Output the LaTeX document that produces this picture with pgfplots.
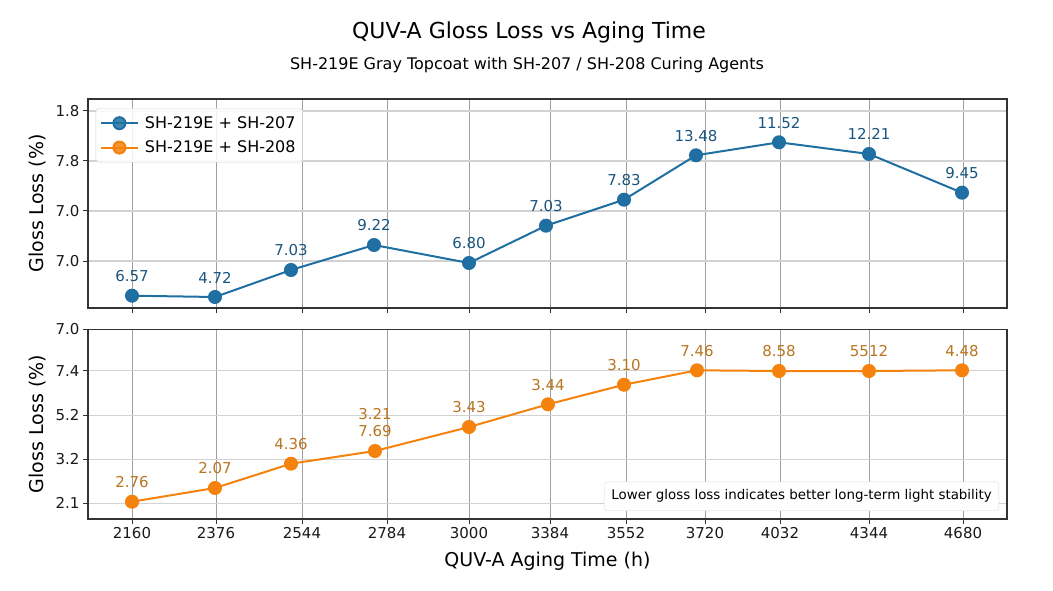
\documentclass[border=0pt]{standalone}
\usepackage{pgfplots}
\pgfplotsset{compat=1.18}
\usepackage{pgfplotstable}
\usepackage{fontspec}
\setmainfont{DejaVu Sans}
\definecolor{cblue}{HTML}{1F6FA3}
\definecolor{cbluet}{HTML}{1A5580}
\definecolor{corange}{HTML}{F5820D}
\definecolor{coranget}{HTML}{B8751E}
\definecolor{frame}{HTML}{333333}

\pgfplotstableread{
x y lab
132 0.306 6.57
215 0.280 4.72
291 0.820 7.03
374 1.320 9.22
469 0.960 6.80
546 1.706 7.03
624 2.226 7.83
696 3.114 13.48
779 3.374 11.52
869 3.140 12.21
962 2.366 9.45
}\topdata

\pgfplotsset{
  common/.style={
    scale only axis, width=919pt,
    xmin=88, xmax=1007,
    xtick={132,216,302,387,469,550,626,705,780,869,963},
    tick align=outside, tick pos=left,
    major tick length=5pt,
    axis line style={draw=frame, line width=1.1pt},
    every tick/.style={draw=frame, line width=1pt},
    grid=major,
    x grid style={draw=gray!75, line width=0.8pt},
    y grid style={draw=gray!35, line width=1.2pt},
    /pgf/number format/assume math mode=true,
    ticklabel style={font=\fontsize{15}{18}\selectfont, text=black!90},
    label style={font=\fontsize{19}{22}\selectfont},
    nodes near coords={\pgfplotspointmeta},
    nodes near coords align={center},
    every node near coord/.append style={anchor=south, inner sep=0pt, yshift=13pt,
      font=\fontsize{15}{17.5}\selectfont, align=center},
  }
}

\begin{document}
\begin{tikzpicture}
\path[use as bounding box] (0,0) rectangle (1053pt,-591pt);

\node[font=\fontsize{22}{26}\selectfont] at (529pt,-32pt) {QUV-A Gloss Loss vs Aging Time};
\node[font=\fontsize{16}{19}\selectfont] at (527pt,-65pt) {SH-219E Gray Topcoat with SH-207 / SH-208 Curing Agents};

\begin{axis}[common,
  at={(88pt,-99pt)}, anchor=north west,
  height=209pt,
  ymin=0.06, ymax=4.24,
  xticklabels={},
  ytick={1,2,3,4}, yticklabels={7.0,7.0,7.8,1.8},
  ylabel={Gloss Loss (\%)},
  ylabel style={at={(axis description cs:-0.0544,0.5)}, anchor=center},
  legend style={at={(axis description cs:0.0084,0.9555)}, anchor=north west,
    draw=gray!35, rounded corners=3pt, fill=white, fill opacity=0.85, text opacity=1,
    font=\fontsize{16}{19}\selectfont, inner xsep=4pt, inner ysep=5pt,
    nodes={inner sep=3pt}, row sep=5pt, column sep=3pt},
  legend cell align=left,
  legend image code/.code={\draw[mark repeat=2,mark phase=2] plot coordinates {(0pt,0pt) (18.5pt,0pt) (37pt,0pt)};},
]
\addplot[color=cblue, line width=2pt, mark=*, mark size=6pt,
  mark options={solid, fill=cblue, draw=cblue},
  point meta=explicit symbolic,
  every node near coord/.append style={text=cbluet}]
  table[x=x, y=y, meta=lab] {\topdata};
\addlegendentry{SH-219E + SH-207}
\addlegendimage{color=corange, line width=2pt, mark=*, mark size=6pt, mark options={solid, fill=corange, draw=corange}}
\addlegendentry{SH-219E + SH-208}
\end{axis}

\begin{axis}[common,
  at={(88pt,-329.3pt)}, anchor=north west,
  height=189.7pt,
  ymin=-0.357, ymax=3.955,
  xticklabels={2160,2376,2544,2784,3000,3384,3552,3720,4032,4344,4680},
  ytick={0,1,2,3.014,3.955}, yticklabels={2.1,3.2,5.2,7.4,7.0},
  ylabel={Gloss Loss (\%)},
  ylabel style={at={(axis description cs:-0.0544,0.5)}, anchor=center},
  xlabel={QUV-A Aging Time (h)},
  xlabel style={at={(axis description cs:0.5,-0.222)}, anchor=center},
]
\addplot[color=corange, line width=2pt, mark=*, mark size=6pt,
  mark options={solid, fill=corange, draw=corange},
  point meta=explicit symbolic,
  every node near coord/.append style={text=coranget}]
  coordinates {
  (132,0.036) [2.76]
  (215,0.348) [2.07]
  (291,0.900) [4.36]
  (375,1.189) [{3.21\\7.69}]
  (469,1.734) [3.43]
  (548,2.250) [3.44]
  (624,2.695) [3.10]
  (697,3.023) [7.46]
  (779,3.007) [8.58]
  (869,3.007) [5512]
  (962,3.023) [4.48]
  };
\node[anchor=south east, draw=gray!30, rounded corners=3pt, fill=white,
  inner xsep=7pt, inner ysep=8pt, font=\fontsize{13.4}{16}\selectfont]
  at (axis description cs:0.9913,0.0423) {Lower gloss loss indicates better long-term light stability};
\end{axis}
\end{tikzpicture}
\end{document}
